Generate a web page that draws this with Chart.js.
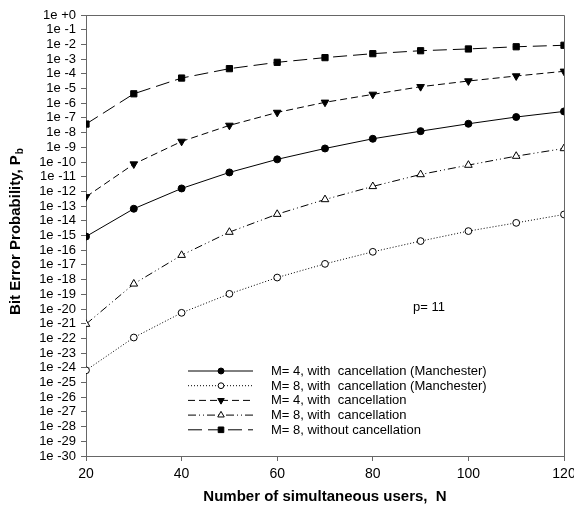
<!DOCTYPE html>
<html>
<head>
<meta charset="utf-8">
<script src="https://cdn.jsdelivr.net/npm/chart.js@4"></script>
<style>
  html, body { margin: 0; padding: 0; background: #fff; }
  #wrap { width: 574px; height: 505px; }
</style>
</head>
<body>
<div id="wrap"><canvas id="grafico" width="574" height="505"></canvas></div>
<script>
// number of simultaneous users N
const usuarios = [20, 30, 40, 50, 60, 70, 80, 90, 100, 110, 120];

// bit error probability (log10 values)
const m4ManchesterExp = [-15.07, -13.18, -11.80, -10.71, -9.82, -9.08, -8.42, -7.90, -7.40, -6.94, -6.56];
const m8ManchesterExp = [-24.17, -21.94, -20.26, -18.97, -17.86, -16.93, -16.11, -15.38, -14.70, -14.14, -13.57];
const m4CancelExp     = [-12.37, -10.14, -8.60, -7.51, -6.63, -5.94, -5.40, -4.88, -4.49, -4.15, -3.83];
const m8CancelExp     = [-21.03, -18.29, -16.34, -14.77, -13.55, -12.55, -11.66, -10.85, -10.21, -9.60, -9.08];
const m8SemCancelExp  = [-7.42, -5.36, -4.29, -3.65, -3.22, -2.90, -2.63, -2.43, -2.31, -2.16, -2.06];

const legendas = [
  'M= 4, with  cancellation (Manchester)',
  'M= 8, with  cancellation (Manchester)',
  'M= 4, with  cancellation',
  'M= 8, with  cancellation',
  'M= 8, without cancellation'
];

// decade ticks of the y axis
const yTickExps = [0, -1, -2, -3, -4, -5, -6, -7, -8, -9, -10, -11, -12, -13, -14, -15,
  -16, -17, -18, -19, -20, -21, -22, -23, -24, -25, -26, -27, -28, -29, -30];
const xTicks = [20, 40, 60, 80, 100, 120];

const fonte = '"Liberation Sans", Arial, Helvetica, sans-serif';
const corEixo = '#666';

function pontos(exps) {
  return usuarios.map((n, i) => ({ x: n, y: Math.pow(10, exps[i]) }));
}

const estilos = [
  { exps: m4ManchesterExp, dash: [], marker: 'circle', fill: '#000', rot: 0, r: 3.5 },
  { exps: m8ManchesterExp, dash: [1, 2], marker: 'circle', fill: '#fff', rot: 0, r: 3.4 },
  { exps: m4CancelExp, dash: [7, 4], marker: 'triangle', fill: '#000', rot: 180, r: 4.4 },
  { exps: m8CancelExp, dash: [8, 3, 1, 3, 1, 3], marker: 'triangle', fill: '#fff', rot: 0, r: 4.4 },
  { exps: m8SemCancelExp, dash: [14, 6], marker: 'rect', fill: '#000', rot: 0, r: 4.4 }
];

const datasets = estilos.map((s, i) => ({
  label: legendas[i],
  data: pontos(s.exps),
  borderColor: '#000',
  borderWidth: 1,
  borderDash: s.dash,
  pointStyle: s.marker,
  pointRotation: s.rot,
  pointRadius: s.r,
  pointBackgroundColor: s.fill,
  pointBorderColor: '#000',
  pointBorderWidth: 1,
  tension: 0
}));

function desenhaMarcador(ctx, s, x, y) {
  ctx.save();
  ctx.setLineDash([]);
  ctx.lineWidth = 1;
  ctx.strokeStyle = '#000';
  ctx.fillStyle = s.fill;
  ctx.beginPath();
  const r = s.r * 0.85;
  if (s.marker === 'circle') {
    ctx.arc(x, y, r, 0, Math.PI * 2);
  } else if (s.marker === 'rect') {
    const h = r * 0.75;
    ctx.rect(x - h, y - h, h * 2, h * 2);
  } else {
    const sgn = s.rot === 180 ? -1 : 1;
    ctx.moveTo(x, y - sgn * r);
    ctx.lineTo(x - r * 0.87, y + sgn * r * 0.5);
    ctx.lineTo(x + r * 0.87, y + sgn * r * 0.5);
    ctx.closePath();
  }
  ctx.fill();
  ctx.stroke();
  ctx.restore();
}

const extras = {
  id: 'extras',
  beforeDatasetsDraw(chart) {
    const { ctx, chartArea: a } = chart;
    ctx.save();
    ctx.strokeStyle = corEixo;
    ctx.lineWidth = 1;
    ctx.beginPath();
    ctx.moveTo(a.left, a.top + 0.5);
    ctx.lineTo(a.right + 0.5, a.top + 0.5);
    ctx.lineTo(a.right + 0.5, a.bottom);
    ctx.stroke();
    ctx.restore();
  },
  afterDraw(chart) {
    const { ctx, chartArea: a } = chart;
    ctx.save();
    // legend inside plot
    ctx.font = '13px ' + fonte;
    ctx.textBaseline = 'middle';
    ctx.fillStyle = '#000';
    estilos.forEach((s, i) => {
      const y = 371 + i * 14.7;
      ctx.save();
      ctx.strokeStyle = '#000';
      ctx.lineWidth = 1;
      ctx.setLineDash(s.dash);
      ctx.beginPath();
      ctx.moveTo(188, y);
      ctx.lineTo(253, y);
      ctx.stroke();
      ctx.restore();
      desenhaMarcador(ctx, s, 221, y);
      ctx.fillText(legendas[i], 271, y + 0.5);
    });
    ctx.fillText('p= 11', 413, 307);

    // axis titles
    ctx.font = 'bold 15px ' + fonte;
    ctx.textAlign = 'center';
    ctx.fillText('Number of simultaneous users,  N', (a.left + a.right) / 2, 497);

    ctx.translate(16, 232);
    ctx.rotate(-Math.PI / 2);
    const principal = 'Bit Error Probability, P';
    const wP = ctx.measureText(principal).width;
    ctx.font = 'bold 10px ' + fonte;
    const wb = ctx.measureText('b').width;
    const x0 = -(wP + wb) / 2;
    ctx.textAlign = 'left';
    ctx.font = 'bold 15px ' + fonte;
    ctx.fillText(principal, x0, 0);
    ctx.font = 'bold 10px ' + fonte;
    ctx.fillText('b', x0 + wP + 1, 4);
    ctx.restore();
  }
};

new Chart(document.getElementById('grafico').getContext('2d'), {
  type: 'line',
  data: { datasets },
  options: {
    responsive: false,
    animation: false,
    layout: { padding: { top: 15, right: 10, left: 0, bottom: 0 } },
    plugins: {
      legend: { display: false },
      tooltip: { enabled: false }
    },
    scales: {
      x: {
        type: 'linear',
        min: 20,
        max: 120,
        afterFit: (s) => { s.height = 49; s.paddingLeft = 0; s.paddingRight = 0; },
        afterBuildTicks: (s) => { s.ticks = xTicks.map(v => ({ value: v })); },
        grid: { drawOnChartArea: false, tickLength: 5, color: corEixo },
        border: { color: corEixo, width: 1 },
        ticks: { color: '#000', font: { family: fonte, size: 14 }, padding: 5, maxRotation: 0 }
      },
      y: {
        type: 'logarithmic',
        min: 1e-30,
        max: 1,
        afterFit: (s) => { s.width = 86; s.paddingTop = 0; s.paddingBottom = 0; },
        afterBuildTicks: (s) => { s.ticks = yTickExps.map(e => ({ value: Math.pow(10, e) })); },
        grid: { drawOnChartArea: false, tickLength: 5, color: corEixo },
        border: { color: corEixo, width: 1 },
        ticks: {
          color: '#000',
          font: { family: fonte, size: 13 },
          padding: 5,
          autoSkip: false,
          callback: (v) => {
            const e = Math.round(Math.log10(v));
            return '1e ' + (e >= 0 ? '+' + e : '-' + Math.abs(e));
          }
        }
      }
    }
  },
  plugins: [extras]
});
</script>
</body>
</html>
